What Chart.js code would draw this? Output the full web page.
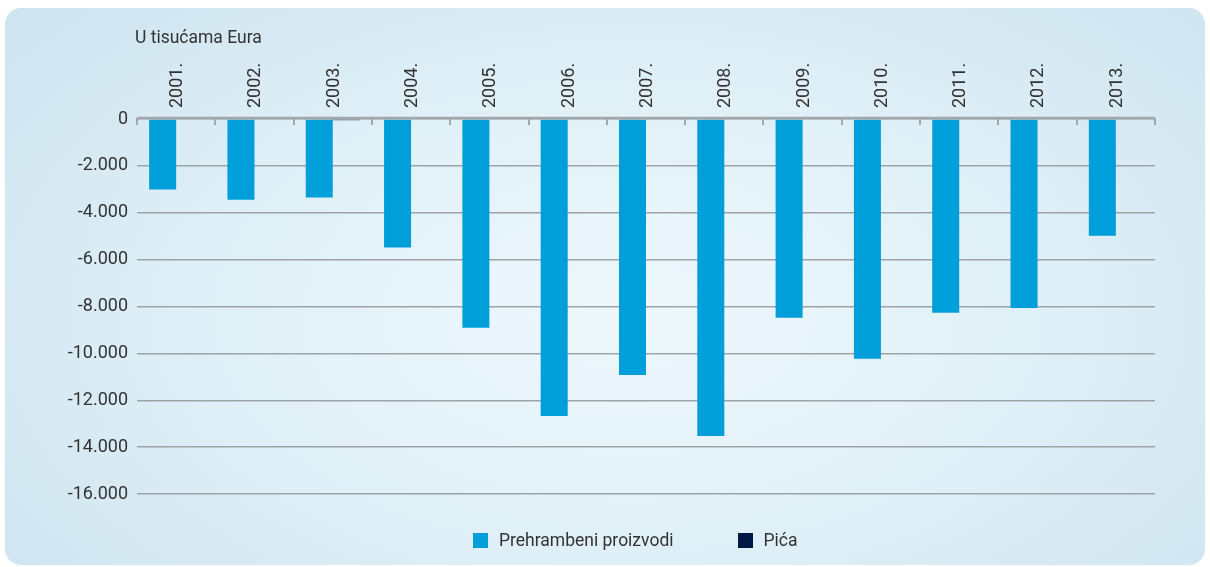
<!DOCTYPE html>
<html><head><meta charset="utf-8">
<script src="https://cdn.jsdelivr.net/npm/chart.js@4.4.0/dist/chart.umd.min.js"></script>
<style>
html,body{margin:0;padding:0;background:#fff;width:1210px;height:567px;overflow:hidden;font-family:Roboto,sans-serif;}
#card{position:absolute;left:5px;top:8px;width:1200px;height:557px;border-radius:16px;
 background:radial-gradient(ellipse 65% 80% at 52% 55%, #eef8fd 0%, #e2f1f8 45%, #cfe5f0 100%);}
#wrap{position:absolute;left:0;top:0;width:1210px;height:567px;}
#title{position:absolute;left:135px;top:27px;font-size:17.5px;line-height:20px;color:#333;}
#legend{position:absolute;top:530px;left:473px;display:flex;align-items:center;font-size:17.5px;line-height:20px;color:#333;}
.item{display:flex;align-items:center;margin-right:64px;}
.box{width:15px;height:15px;margin-right:11px;}
</style></head>
<body>
<div id="card"></div>
<div id="wrap"><canvas id="c" width="1210" height="567"></canvas></div>
<div id="title">U tisućama Eura</div>
<div id="legend"></div>
<script>
const categories = ['2001.','2002.','2003.','2004.','2005.','2006.','2007.','2008.','2009.','2010.','2011.','2012.','2013.'];
const prehrambeni = [-3010,-3440,-3350,-5480,-8910,-12670,-10920,-13530,-8480,-10230,-8270,-8060,-4980];
const pica = [0,0,-50,0,0,0,0,0,0,0,0,0,0];
const seriesNames = ['Prehrambeni proizvodi','Pića'];
const seriesColors = ['#009fda','#001a45'];
const yMin = -16000, yMax = 0, yStep = 2000;

function fmt(v){
  if (v === 0) return '0';
  const s = Math.abs(v).toString().replace(/\B(?=(\d{3})+(?!\d))/g,'.');
  return (v<0?'-':'') + s;
}

const axisPlugin = {
  id:'axisPlugin',
  afterDatasetsDraw(chart){
    const ctx = chart.ctx, xs = chart.scales.x, ys = chart.scales.y;
    const y0 = ys.getPixelForValue(0);
    const a = chart.chartArea;
    ctx.save();
    ctx.strokeStyle = '#a3a7aa';
    ctx.lineWidth = 2.5;
    ctx.beginPath();
    ctx.moveTo(a.left, y0 - 1);
    ctx.lineTo(a.right, y0 - 1);
    ctx.stroke();
    ctx.lineWidth = 2;
    for (let i = 0; i <= categories.length; i++){
      const px = Math.round(xs.getPixelForValue(i - 0.5));
      ctx.beginPath();
      ctx.moveTo(px, y0 - 1);
      ctx.lineTo(px, y0 + 6);
      ctx.stroke();
    }
    ctx.restore();
  }
};

new Chart(document.getElementById('c'), {
  type:'bar',
  data:{
    labels: categories,
    datasets:[
      {label: seriesNames[0], data: prehrambeni, backgroundColor: seriesColors[0], categoryPercentage:0.69, barPercentage:1.0},
      {label: seriesNames[1], data: pica, backgroundColor: seriesColors[1], categoryPercentage:0.69, barPercentage:1.0}
    ]
  },
  options:{
    responsive:false, animation:false, devicePixelRatio:1,
    layout:{padding:{left:0,right:55,top:0,bottom:73}},
    plugins:{legend:{display:false}, tooltip:{enabled:false}, title:{display:false}},
    scales:{
      x:{
        position:'top',
        grid:{display:false, drawTicks:false},
        border:{display:false},
        ticks:{autoSkip:false, minRotation:90, maxRotation:90, padding:11, labelOffset:23, color:'#333', font:{family:'Roboto', size:18}},
        afterFit(s){ s.height = 119; }
      },
      y:{
        min:yMin, max:yMax,
        grid:{color:'#9ea3a6', lineWidth:1.5, drawTicks:false},
        border:{display:false},
        ticks:{stepSize:yStep, padding:9, color:'#333', font:{family:'Roboto', size:18}, callback:(v)=>fmt(v)},
        afterFit(s){ s.width = 137; }
      }
    }
  },
  plugins:[axisPlugin]
});

const lg = document.getElementById('legend');
seriesNames.forEach((n,i)=>{
  const it = document.createElement('div'); it.className='item';
  const b = document.createElement('div'); b.className='box'; b.style.background = seriesColors[i];
  const t = document.createElement('span'); t.textContent = n;
  it.appendChild(b); it.appendChild(t); lg.appendChild(it);
});
</script>
</body></html>
